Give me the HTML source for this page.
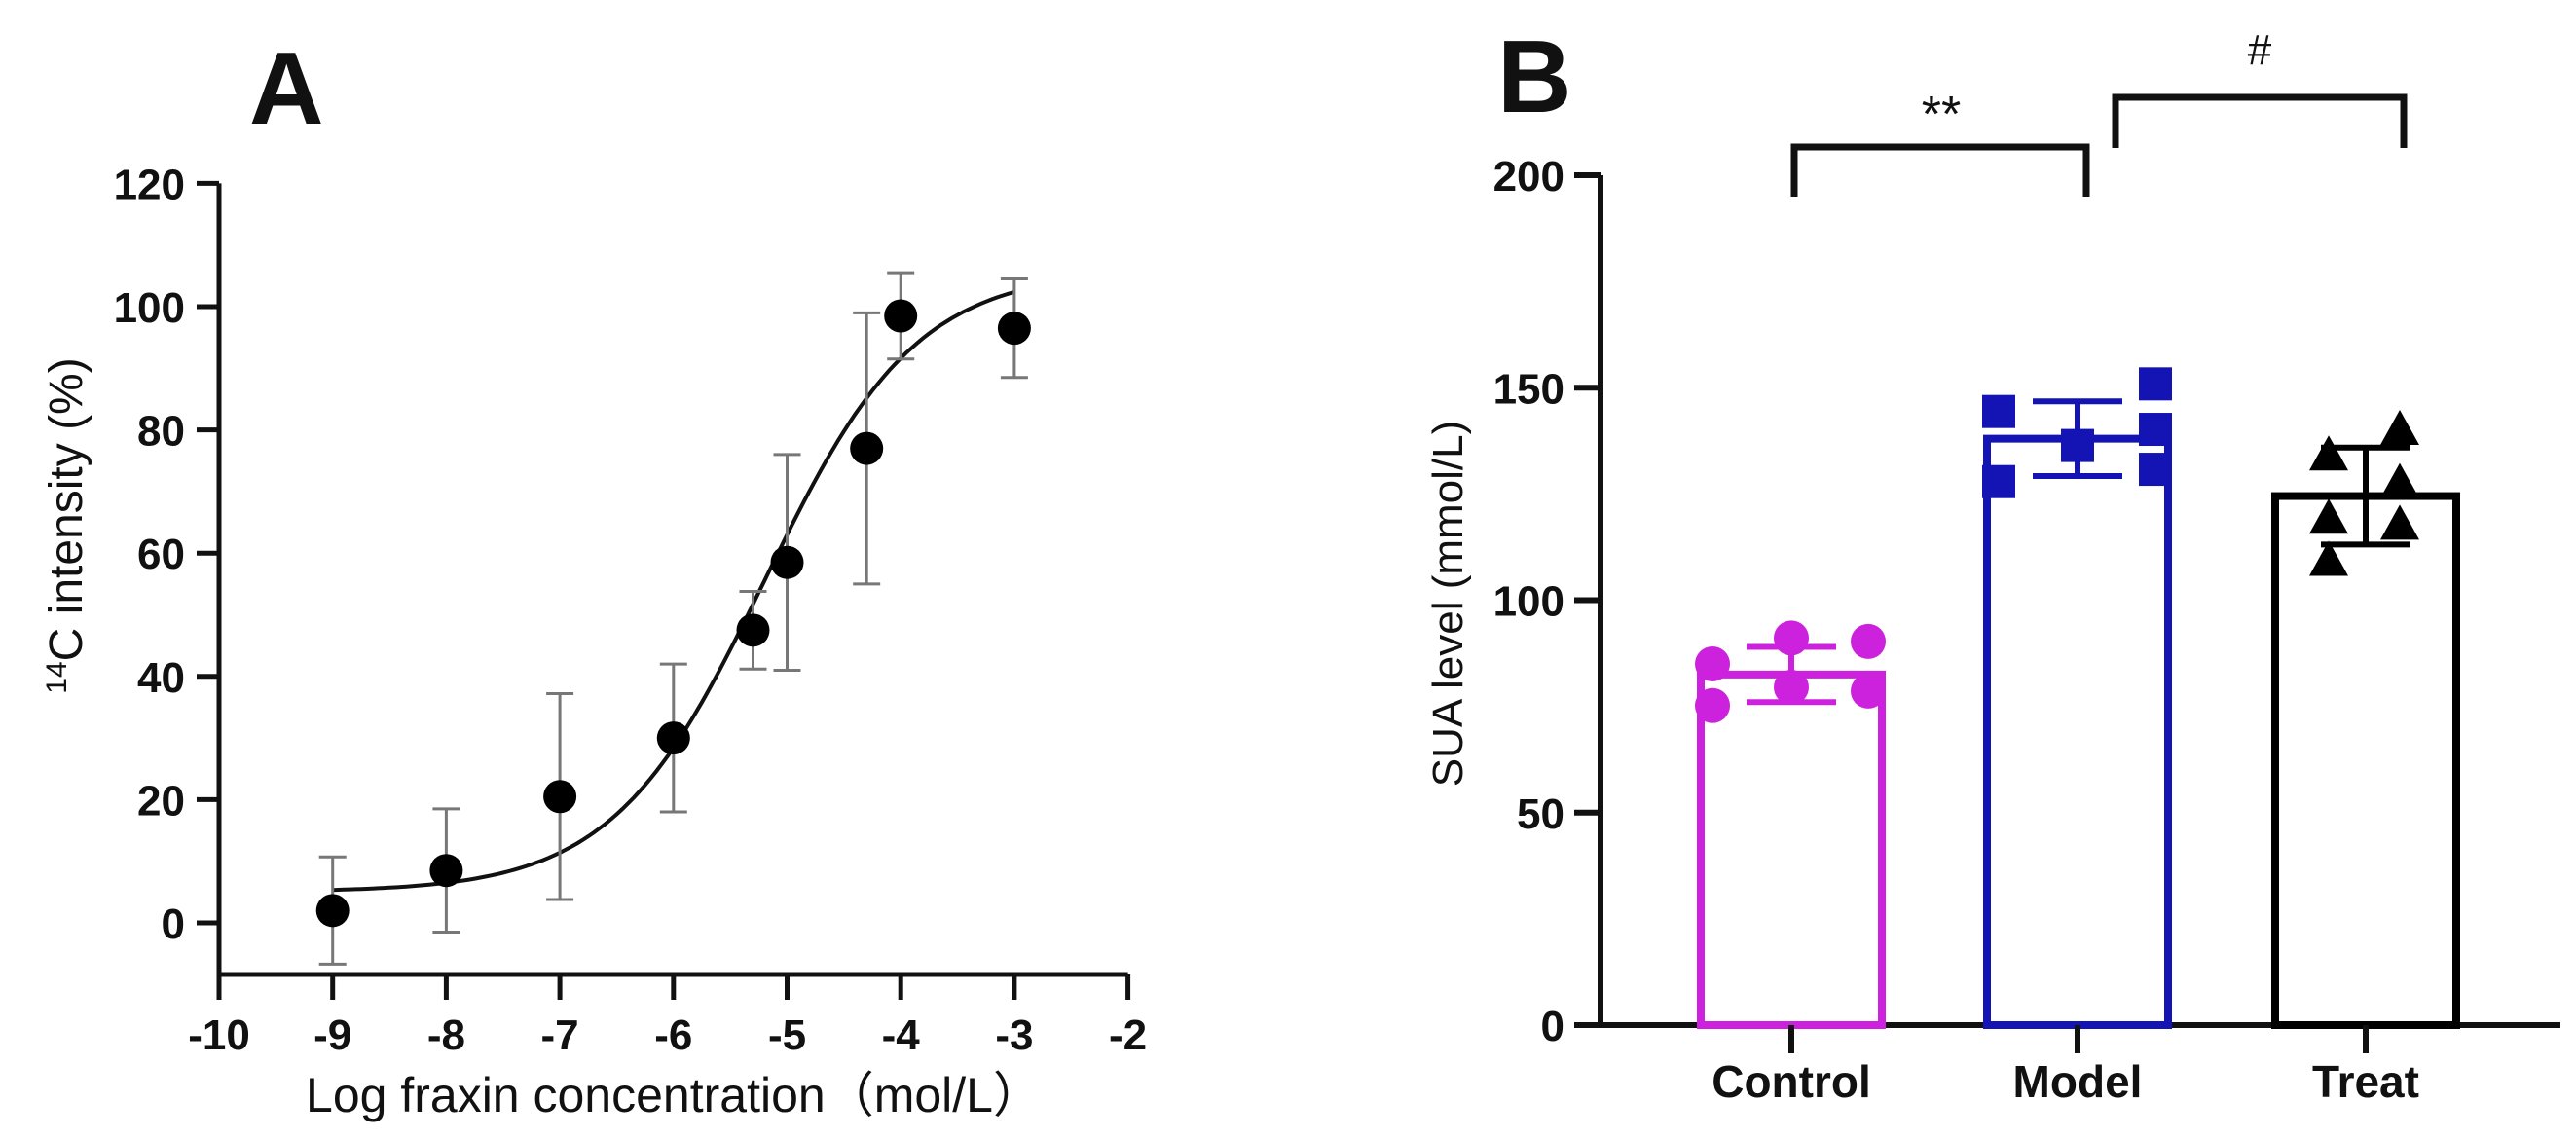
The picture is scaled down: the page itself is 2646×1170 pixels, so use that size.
<!DOCTYPE html>
<html><head><meta charset="utf-8"><style>
html,body{margin:0;padding:0;background:#fff;overflow:hidden}
svg{display:block}
text{font-family:"Liberation Sans","Noto Sans CJK SC",sans-serif;fill:#111}
</style></head><body>
<svg id="fig" xmlns="http://www.w3.org/2000/svg" width="2646" height="1170" viewBox="0 0 2646 1170">
<g id="pa"></g>
<g id="pb"></g>
</svg>
<script>
// Panel A data
const aX = [-9,-8,-7,-6,-5.3,-5,-4.3,-4,-3];
const aY = [2,8.5,20.5,30,47.5,58.5,77,98.5,96.5];
const aErr = [8.7,10,16.7,12,6.3,17.5,22,7,8];
const aXTicks = [-10,-9,-8,-7,-6,-5,-4,-3,-2];
const aYTicks = [0,20,40,60,80,100,120];
const aFit = [5,106,-5.2,0.65]; // bottom, top, logEC50, hill
// Panel B data
const bCats = ["Control","Model","Treat"];
const bMeans = [82.5,138,124.5];
const bSD = [6.5,8.8,11.4];
const bPts = [[85,75.2,91.1,79.5,90.3,78.6],[144.4,127.9,136.4,150.9,140.2,130.8],[134.2,119.3,109.4,140.2,127.7,117.9]];
const bYTicks = [0,50,100,150,200];

const NS="http://www.w3.org/2000/svg";
function mk(p,t,a){const e=document.createElementNS(NS,t);for(const k in a)e.setAttribute(k,a[k]);p.appendChild(e);return e;}
const pa=document.getElementById('pa'), pb=document.getElementById('pb');

// ---- Panel A ----
const ax=v=>225+(v+10)*116.7, ay=v=>948-v*6.33;
const AXY=1001;
let e;
e=mk(pa,'text',{x:256,y:127,'font-size':106,'font-weight':'bold'});e.textContent='A';


e=mk(pa,'line',{x1:225,y1:ay(120),x2:225,y2:AXY+2,stroke:'#111','stroke-width':5});


e=mk(pa,'line',{x1:223,y1:AXY,x2:ax(-2),y2:AXY,stroke:'#111','stroke-width':5});


aYTicks.forEach(v=>{
 e=mk(pa,'line',{x1:202,y1:ay(v),x2:225,y2:ay(v),stroke:'#111','stroke-width':5});
 
 
 e=mk(pa,'text',{x:190,y:ay(v)+16,'font-size':44,'text-anchor':'end','font-weight':'bold'});e.textContent=v;
 
 
});
aXTicks.forEach(v=>{
 e=mk(pa,'line',{x1:ax(v),y1:AXY,x2:ax(v),y2:AXY+26,stroke:'#111','stroke-width':5});
 
 
 e=mk(pa,'text',{x:ax(v),y:1078,'font-size':44,'text-anchor':'middle','font-weight':'bold'});e.textContent=v;
 
 
});
e=mk(pa,'text',{x:692,y:1142,'font-size':50,'text-anchor':'middle'});e.textContent='Log fraxin concentration（mol/L）';


e=mk(pa,'text',{x:0,y:0,'font-size':48,'text-anchor':'middle',transform:'translate(84,540) rotate(-90)'});
e.innerHTML='<tspan font-size="30" dy="-16">14</tspan><tspan dy="16">C intensity (%)</tspan>';


let d='';
for(let i=0;i<=120;i++){const x=-9+6*i/120;const y=aFit[0]+(aFit[1]-aFit[0])/(1+Math.pow(10,(aFit[2]-x)*aFit[3]));d+=(i?'L':'M')+ax(x).toFixed(1)+' '+ay(y).toFixed(1);}
e=mk(pa,'path',{d:d,fill:'none',stroke:'#111','stroke-width':4});


aX.forEach((x,i)=>{
 const cx=ax(x),t=ay(aY[i]+aErr[i]),b=ay(aY[i]-aErr[i]);
 e=mk(pa,'path',{d:`M${cx} ${t}V${b}M${cx-14} ${t}H${cx+14}M${cx-14} ${b}H${cx+14}`,stroke:'#777','stroke-width':3,fill:'none'});
 
 
 e=mk(pa,'circle',{cx:cx,cy:ay(aY[i]),r:17,fill:'#000'});
 
 
});

// ---- Panel B ----
const by=v=>1053-v*4.365;
const bxc=[1840,2134,2430];
const cols=['#cc22dd','#1414b4','#000'];
const offs=[[-81,-81,0,0,79,79],[-81,-81,0,80,80,80],[-38,-38,-38,35,35,35]];
e=mk(pb,'text',{x:1538,y:115,'font-size':106,'font-weight':'bold'});e.textContent='B';


e=mk(pb,'line',{x1:1644,y1:by(200),x2:1644,y2:1056,stroke:'#111','stroke-width':6});


e=mk(pb,'line',{x1:1618,y1:1053,x2:2630,y2:1053,stroke:'#111','stroke-width':6});


bYTicks.forEach(v=>{
 e=mk(pb,'line',{x1:1617,y1:by(v),x2:1644,y2:by(v),stroke:'#111','stroke-width':6});
 
 
 e=mk(pb,'text',{x:1607,y:by(v)+16,'font-size':44,'text-anchor':'end','font-weight':'bold'});e.textContent=v;
 
 
});
e=mk(pb,'text',{x:0,y:0,'font-size':44,'text-anchor':'middle',transform:'translate(1502,620) rotate(-90)'});e.textContent='SUA level (mmol/L)';


bCats.forEach((c,i)=>{
 const cx=bxc[i];
 e=mk(pb,'rect',{x:cx-93,y:by(bMeans[i]),width:186,height:1053-by(bMeans[i]),fill:'none',stroke:cols[i],'stroke-width':8});
 
 
 e=mk(pb,'line',{x1:cx,y1:1053,x2:cx,y2:1082,stroke:'#111','stroke-width':6});
 
 
 e=mk(pb,'text',{x:cx,y:1127,'font-size':46,'text-anchor':'middle','font-weight':'bold'});e.textContent=c;
 
 
 const t=by(bMeans[i]+bSD[i]),b=by(bMeans[i]-bSD[i]);
 e=mk(pb,'path',{d:`M${cx} ${t}V${b}M${cx-46} ${t}H${cx+46}M${cx-46} ${b}H${cx+46}M${cx-90} ${by(bMeans[i])}H${cx+90}`,stroke:cols[i],'stroke-width':6,fill:'none'});
 
 
 bPts[i].forEach((v,j)=>{
  const px=cx+offs[i][j], py=by(v);
  if(i==0) e=mk(pb,'circle',{cx:px,cy:py,r:18,fill:cols[i]});
  else if(i==1) e=mk(pb,'rect',{x:px-17,y:py-17,width:34,height:34,fill:cols[i]});
  else e=mk(pb,'polygon',{points:`${px},${py-20} ${px+20},${py+16} ${px-20},${py+16}`,fill:cols[i]});
  
  
 });
});
e=mk(pb,'path',{d:'M1843 202V151H2143V202',fill:'none',stroke:'#111','stroke-width':7});


e=mk(pb,'text',{x:1994,y:135,'font-size':52,'text-anchor':'middle'});e.textContent='**';


e=mk(pb,'path',{d:'M2173 152V100H2469V152',fill:'none',stroke:'#111','stroke-width':7});


e=mk(pb,'text',{x:2321,y:66,'font-size':44,'text-anchor':'middle'});e.textContent='#';


</script>
</body></html>
